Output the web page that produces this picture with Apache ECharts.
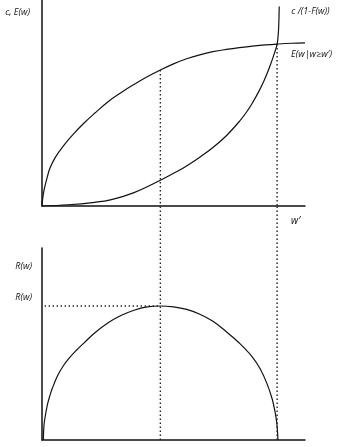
<!DOCTYPE html>
<html>
<head>
<meta charset="utf-8">
<script src="https://cdn.jsdelivr.net/npm/echarts@6/dist/echarts.min.js"></script>
<style>
html,body{margin:0;padding:0;background:#fff;}
#c{width:337px;height:447px;}
</style>
</head>
<body>
<div id="c"></div>
<script>
// ---- data ----
// upper panel: E(w | w >= w')  (concave)
const eW = [0, 0.2, 0.6, 1, 2, 3, 5, 8, 12, 16, 20, 25, 30, 35, 40, 45, 50, 55, 60, 65, 70, 75, 80, 85, 89.4, 95, 100];
const eV = [0, 3, 6.5, 9, 14, 18.3, 23.5, 29, 35, 40.3, 45, 50.5, 55, 59, 62.7, 66, 69, 71.5, 73.4, 74.9, 76, 76.9, 77.6, 78.2, 78.6, 79, 79.2];
// upper panel: c/(1-F(w))  (convex)
const cW = [0, 10, 20, 26, 35, 45, 52, 56, 60, 65, 70, 75, 78, 80, 82.6, 84.5, 86.4, 88.2, 89.4, 89.8, 90.0, 90.2];
const cV = [0, 0.6, 1.8, 3, 6.5, 12.5, 17.2, 20.3, 23.7, 28.4, 34, 41, 46, 50, 56, 61, 67, 73.5, 78.6, 83, 87, 96.8];
// lower panel: R(w)
const rW = [0.5, 0.7, 1, 2, 3, 4, 6, 8, 10, 13, 16, 20, 25, 30, 35, 40, 45, 50, 55, 60, 65, 70, 75, 80, 83, 85.5, 87.5, 88.7, 89.3, 89.6, 89.7];
const rV = [0, 6.6, 10.4, 18, 23.1, 27.2, 33.7, 38.4, 42.1, 46.6, 50.6, 55.7, 60.9, 64.8, 67.6, 69.3, 69.8, 69.3, 68, 65.5, 61.8, 56.5, 50.5, 43.2, 37, 29.5, 21.5, 14, 8.5, 3, 0];
// key points
const wStar = 45;      // maximiser of R(w)
const eAtStar = 66;    // E at wStar
const wPrime = 89.4;   // crossing point w'
const eAtPrime = 78.6; // E at w'
const rPeak = 69.8;    // max R
// labels
const labTopY = 'c, E(w)';
const labConvex = 'c /(1-F(w))';
const labConcave = 'E(w|w≥w′)';
const labWPrime = 'w′';
const labLowY = 'R(w)';
const labPeak = 'R(w)';

// ---- layout ----
const L = 42, R = 32;
const topTop = 0, topBottomPx = 206;
const lowTop = 248, lowBottomPx = 440;
const H = 447;
const yMaxTop = 100, yMaxLow = 100;
// value in lower panel reaching up to the upper panel's x axis
const ext = yMaxLow * (lowBottomPx - topBottomPx) / (lowBottomPx - lowTop);

const font = 'Open Sans';
const txt = {fontFamily: font, fontStyle: 'italic', fontSize: 9, color: '#111'};
const axisLine = {show: true, onZero: false, lineStyle: {color: '#111', width: 1.5}};
const dot = {color: '#222', width: 1.4, type: [1.4, 2.6]};
const curve = {color: '#111', width: 1.2};
const zip = (a, b) => a.map((v, i) => [v, b[i]]);

const chart = echarts.init(document.getElementById('c'), null, {renderer: 'canvas'});
chart.setOption({
  animation: false,
  backgroundColor: '#fff',
  grid: [
    {left: L, right: R, top: topTop, bottom: H - topBottomPx},
    {left: L, right: R, top: lowTop, bottom: H - lowBottomPx}
  ],
  xAxis: [
    {gridIndex: 0, type: 'value', min: 0, max: 100, axisLine, axisTick: {show: false}, splitLine: {show: false},
     axisLabel: {show: true, customValues: [wPrime], formatter: () => labWPrime, ...txt, fontSize: 10, align: 'left', padding: [0, 0, 0, 14], margin: 10}},
    {gridIndex: 1, type: 'value', min: 0, max: 100, axisLine, axisTick: {show: false}, splitLine: {show: false}, axisLabel: {show: false}}
  ],
  yAxis: [
    {gridIndex: 0, type: 'value', min: 0, max: yMaxTop, axisLine, axisTick: {show: false}, splitLine: {show: false}, axisLabel: {show: false},
     name: labTopY, nameLocation: 'end', nameGap: -12, nameTextStyle: {...txt, align: 'right', verticalAlign: 'middle', padding: [0, 12, 0, 0]}},
    {gridIndex: 1, type: 'value', min: 0, max: yMaxLow, axisLine, axisTick: {show: false}, splitLine: {show: false},
     axisLabel: {show: true, customValues: [rPeak], formatter: () => labPeak, ...txt, margin: 10, verticalAlign: 'bottom', padding: [0, 0, 4, 0]},
     name: labLowY, nameLocation: 'end', nameGap: -18, nameTextStyle: {...txt, align: 'right', verticalAlign: 'middle', padding: [0, 10, 0, 0]}}
  ],
  series: [
    {type: 'line', xAxisIndex: 0, yAxisIndex: 0, data: zip(eW, eV), showSymbol: false, smooth: 0.4, lineStyle: curve, silent: true,
     endLabel: {show: true, formatter: labConcave, ...txt, offset: [-22, 12]}},
    {type: 'line', xAxisIndex: 0, yAxisIndex: 0, data: zip(cW, cV), showSymbol: false, smooth: 0.4, lineStyle: curve, silent: true,
     endLabel: {show: true, formatter: labConvex, ...txt, offset: [4, 5]}},
    {type: 'line', xAxisIndex: 1, yAxisIndex: 1, data: zip(rW, rV), showSymbol: false, smooth: 0.4, lineStyle: curve, silent: true},
    // dotted guides
    {type: 'line', xAxisIndex: 0, yAxisIndex: 0, data: [[wStar, eAtStar], [wStar, 0]], showSymbol: false, lineStyle: dot, silent: true},
    {type: 'line', xAxisIndex: 0, yAxisIndex: 0, data: [[wPrime, eAtPrime], [wPrime, 0]], showSymbol: false, lineStyle: dot, silent: true},
    {type: 'line', xAxisIndex: 1, yAxisIndex: 1, data: [[wStar, 0], [wStar, ext]], showSymbol: false, lineStyle: dot, clip: false, silent: true},
    {type: 'line', xAxisIndex: 1, yAxisIndex: 1, data: [[wPrime, 0], [wPrime, ext]], showSymbol: false, lineStyle: dot, clip: false, silent: true},
    {type: 'line', xAxisIndex: 1, yAxisIndex: 1, data: [[1, rPeak], [wStar, rPeak]], showSymbol: false, lineStyle: dot, silent: true}
  ]
});
</script>
</body>
</html>
